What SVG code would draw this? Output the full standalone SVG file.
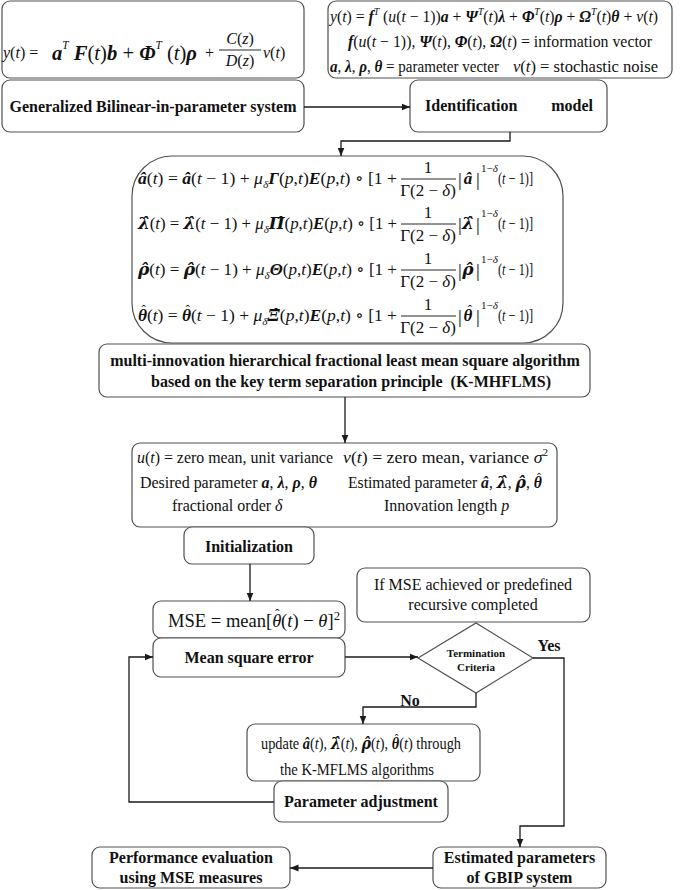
<svg xmlns="http://www.w3.org/2000/svg" width="685" height="890" viewBox="0 0 685 890">
<defs>
<style>
text{font-family:'Liberation Serif','Times New Roman','DejaVu Serif',serif;fill:#111;}
.box{fill:#fff;stroke:#505050;stroke-width:1.2;}
.lbl{font-size:16px;font-weight:bold;text-anchor:middle;}
.m{font-size:16px;}
.eq{font-size:17px;}
.i{font-style:italic;}
.bi{font-style:italic;font-weight:bold;}
.h{font-family:'DejaVu Serif',serif;}
.hat{font-style:normal;font-weight:normal;}
.c{text-anchor:middle;}
.conn{fill:none;stroke:#1a1a1a;stroke-width:1.3;}
.bar{stroke:#111;stroke-width:0.9;}
</style>
<marker id="arr" markerUnits="userSpaceOnUse" markerWidth="9" markerHeight="8" refX="8.5" refY="4" orient="auto">
<path d="M0,0.5 L8.5,4 L0,7.5 z" fill="#1a1a1a"/>
</marker>
</defs>

<g id="n-gbip-eq">
<rect class="box" x="2" y="1" width="302" height="77" rx="8"/>
<text class="m" x="3" y="58"><tspan class="i">y</tspan>(<tspan class="i">t</tspan>) =</text>
<text x="52" y="60" font-size="22" textLength="145" lengthAdjust="spacingAndGlyphs"><tspan class="bi">a</tspan><tspan class="i" font-size="12" dy="-11">T</tspan><tspan class="bi" dy="11"> F</tspan>(<tspan class="i">t</tspan>)<tspan class="bi">b</tspan> + <tspan class="bi">Φ</tspan><tspan class="i" font-size="12" dy="-11">T</tspan><tspan dy="11"> (</tspan><tspan class="i">t</tspan>)<tspan class="bi">ρ</tspan></text>
<text class="m" x="205" y="58">+</text>
<text class="m c" x="240" y="44"><tspan class="i">C</tspan>(<tspan class="i">z</tspan>)</text>
<line class="bar" x1="219" y1="50" x2="261" y2="50"/>
<text class="m c" x="240" y="66"><tspan class="i">D</tspan>(<tspan class="i">z</tspan>)</text>
<text class="m" x="263" y="58"><tspan class="i">v</tspan>(<tspan class="i">t</tspan>)</text>
</g>

<g id="n-gbip">
<rect class="box" x="2" y="80" width="302" height="52" rx="8"/>
<text class="lbl" x="153" y="112">Generalized Bilinear-in-parameter system</text>
</g>

<g id="n-idmodel-eq">
<rect class="box" x="328" y="1" width="344" height="77" rx="8"/>
<text class="m" x="330" y="22" textLength="328" lengthAdjust="spacingAndGlyphs"><tspan class="i">y</tspan>(<tspan class="i">t</tspan>) = <tspan class="bi">f</tspan><tspan class="i" font-size="10" dy="-7">T</tspan><tspan dy="7"> (</tspan><tspan class="i">u</tspan>(<tspan class="i">t</tspan> − 1))<tspan class="bi">a</tspan> + <tspan class="bi">Ψ</tspan><tspan class="i" font-size="10" dy="-7">T</tspan><tspan dy="7">(</tspan><tspan class="i">t</tspan>)<tspan class="bi">λ</tspan> + <tspan class="bi">Φ</tspan><tspan class="i" font-size="10" dy="-7">T</tspan><tspan dy="7">(</tspan><tspan class="i">t</tspan>)<tspan class="bi">ρ</tspan> + <tspan class="bi">Ω</tspan><tspan class="i" font-size="10" dy="-7">T</tspan><tspan dy="7">(</tspan><tspan class="i">t</tspan>)<tspan class="bi">θ</tspan> + <tspan class="i">v</tspan>(<tspan class="i">t</tspan>)</text>
<text class="m" x="348" y="47" textLength="304" lengthAdjust="spacingAndGlyphs"><tspan class="bi">f</tspan>(<tspan class="i">u</tspan>(<tspan class="i">t</tspan> − 1)), <tspan class="bi">Ψ</tspan>(<tspan class="i">t</tspan>), <tspan class="bi">Φ</tspan>(<tspan class="i">t</tspan>), <tspan class="bi">Ω</tspan>(<tspan class="i">t</tspan>) = information vector</text>
<text class="m" x="330" y="72" textLength="169" lengthAdjust="spacingAndGlyphs"><tspan class="bi">a</tspan>, <tspan class="bi">λ</tspan>, <tspan class="bi">ρ</tspan>, <tspan class="bi">θ</tspan> = parameter vecter</text>
<text class="m" x="513" y="72" textLength="145" lengthAdjust="spacingAndGlyphs"><tspan class="i">v</tspan>(<tspan class="i">t</tspan>) = stochastic noise</text>
</g>

<g id="n-idmodel">
<rect class="box" x="410" y="80" width="197" height="52" rx="8"/>
<text class="lbl" x="425" y="111" style="text-anchor:start" font-size="17">Identification</text>
<text class="lbl" x="593" y="111" style="text-anchor:end" font-size="17">model</text>
</g>

<g id="n-update-eqs">
<rect class="box" x="132" y="156" width="431" height="187" rx="40" ry="40"/>
<!-- line 1 -->
<text class="eq" x="138" y="184" textLength="259" lengthAdjust="spacingAndGlyphs"><tspan class="bi">â</tspan>(<tspan class="i">t</tspan>) = <tspan class="bi">â</tspan>(<tspan class="i">t</tspan> − 1) + <tspan class="i">μ</tspan><tspan class="i" font-size="11" dy="4">δ</tspan><tspan class="bi" dy="-4">Γ</tspan>(<tspan class="i">p</tspan>,<tspan class="i">t</tspan>)<tspan class="bi">E</tspan>(<tspan class="i">p</tspan>,<tspan class="i">t</tspan>) ∘ [1 +</text>
<text class="eq c" x="428" y="173">1</text>
<line class="bar" x1="401" y1="179" x2="456" y2="179"/>
<text class="eq c" x="428" y="196">Γ(2 − <tspan class="i">δ</tspan>)</text>
<text x="458" y="186" font-size="19">|</text>
<text class="eq bi c" x="468" y="184">â</text>
<text x="476" y="186" font-size="19">|</text>
<text x="481" y="172" font-size="11">1−<tspan class="i">δ</tspan></text>
<text class="eq" x="498" y="184" textLength="35" lengthAdjust="spacingAndGlyphs">(<tspan class="i">t</tspan> − 1)]</text>
<!-- line 2 -->
<text class="eq" x="138" y="229" textLength="259" lengthAdjust="spacingAndGlyphs"><tspan class="bi h">λ̂</tspan>(<tspan class="i">t</tspan>) = <tspan class="bi h">λ̂</tspan>(<tspan class="i">t</tspan> − 1) + <tspan class="i">μ</tspan><tspan class="i" font-size="11" dy="4">δ</tspan><tspan class="bi h" dy="-4">Π̂</tspan>(<tspan class="i">p</tspan>,<tspan class="i">t</tspan>)<tspan class="bi">E</tspan>(<tspan class="i">p</tspan>,<tspan class="i">t</tspan>) ∘ [1 +</text>
<text class="eq c" x="428" y="218">1</text>
<line class="bar" x1="401" y1="224" x2="456" y2="224"/>
<text class="eq c" x="428" y="241">Γ(2 − <tspan class="i">δ</tspan>)</text>
<text x="458" y="231" font-size="19">|</text>
<text class="eq bi h c" x="468" y="229" font-size="16">λ̂</text>
<text x="476" y="231" font-size="19">|</text>
<text x="481" y="217" font-size="11">1−<tspan class="i">δ</tspan></text>
<text class="eq" x="498" y="229" textLength="35" lengthAdjust="spacingAndGlyphs">(<tspan class="i">t</tspan> − 1)]</text>
<!-- line 3 -->
<text class="eq" x="138" y="275" textLength="259" lengthAdjust="spacingAndGlyphs"><tspan class="bi h">ρ̂</tspan>(<tspan class="i">t</tspan>) = <tspan class="bi h">ρ̂</tspan>(<tspan class="i">t</tspan> − 1) + <tspan class="i">μ</tspan><tspan class="i" font-size="11" dy="4">δ</tspan><tspan class="bi" dy="-4">Θ</tspan>(<tspan class="i">p</tspan>,<tspan class="i">t</tspan>)<tspan class="bi">E</tspan>(<tspan class="i">p</tspan>,<tspan class="i">t</tspan>) ∘ [1 +</text>
<text class="eq c" x="428" y="264">1</text>
<line class="bar" x1="401" y1="270" x2="456" y2="270"/>
<text class="eq c" x="428" y="287">Γ(2 − <tspan class="i">δ</tspan>)</text>
<text x="458" y="277" font-size="19">|</text>
<text class="eq bi h c" x="468" y="275" font-size="16">ρ̂</text>
<text x="476" y="277" font-size="19">|</text>
<text x="481" y="263" font-size="11">1−<tspan class="i">δ</tspan></text>
<text class="eq" x="498" y="275" textLength="35" lengthAdjust="spacingAndGlyphs">(<tspan class="i">t</tspan> − 1)]</text>
<!-- line 4 -->
<text class="eq" x="138" y="321" textLength="259" lengthAdjust="spacingAndGlyphs"><tspan class="bi">θ</tspan><tspan class="hat" font-size="13" dx="-5.5" dy="-7">ˆ</tspan><tspan dx="1" dy="7">(</tspan><tspan class="i">t</tspan>) = <tspan class="bi">θ</tspan><tspan class="hat" font-size="13" dx="-5.5" dy="-7">ˆ</tspan><tspan dx="1" dy="7">(</tspan><tspan class="i">t</tspan> − 1) + <tspan class="i">μ</tspan><tspan class="i" font-size="11" dy="4">δ</tspan><tspan class="bi h" dy="-4">Ξ̂</tspan>(<tspan class="i">p</tspan>,<tspan class="i">t</tspan>)<tspan class="bi">E</tspan>(<tspan class="i">p</tspan>,<tspan class="i">t</tspan>) ∘ [1 +</text>
<text class="eq c" x="428" y="310">1</text>
<line class="bar" x1="401" y1="316" x2="456" y2="316"/>
<text class="eq c" x="428" y="333">Γ(2 − <tspan class="i">δ</tspan>)</text>
<text x="458" y="323" font-size="19">|</text>
<text class="eq bi c" x="468" y="321">θ</text>
<text class="c" x="470" y="314" font-size="13">ˆ</text>
<text x="476" y="323" font-size="19">|</text>
<text x="481" y="309" font-size="11">1−<tspan class="i">δ</tspan></text>
<text class="eq" x="498" y="321" textLength="35" lengthAdjust="spacingAndGlyphs">(<tspan class="i">t</tspan> − 1)]</text>
</g>

<g id="n-kmhflms">
<rect class="box" x="99" y="344" width="491" height="53" rx="8"/>
<text class="lbl" x="345" y="366">multi-innovation hierarchical fractional least mean square algorithm</text>
<text class="lbl" x="351" y="387" xml:space="preserve">based on the key term separation principle  (K-MHFLMS)</text>
</g>

<g id="n-params">
<rect class="box" x="132" y="443" width="425" height="84" rx="8"/>
<text class="m" x="137" y="463" textLength="196" lengthAdjust="spacingAndGlyphs"><tspan class="i">u</tspan>(<tspan class="i">t</tspan>) = zero mean, unit variance</text>
<text class="m" x="343" y="463" textLength="205" lengthAdjust="spacingAndGlyphs"><tspan class="i">v</tspan>(<tspan class="i">t</tspan>) = zero mean, variance <tspan class="i">σ</tspan><tspan font-size="10" dy="-7">2</tspan></text>
<text class="m" x="140" y="488" textLength="177" lengthAdjust="spacingAndGlyphs">Desired parameter <tspan class="bi">a</tspan>, <tspan class="bi">λ</tspan>, <tspan class="bi">ρ</tspan>, <tspan class="bi">θ</tspan></text>
<text class="m" x="348" y="488" textLength="194" lengthAdjust="spacingAndGlyphs">Estimated parameter <tspan class="bi">â</tspan>, <tspan class="bi h">λ̂</tspan>, <tspan class="bi h">ρ̂</tspan>, <tspan class="bi">θ</tspan><tspan class="hat" font-size="12" dx="-5" dy="-6.5">ˆ</tspan></text>
<text class="m" x="172" y="511">fractional order <tspan class="i">δ</tspan></text>
<text class="m" x="384" y="511">Innovation length <tspan class="i">p</tspan></text>
</g>

<g id="n-init">
<rect class="box" x="184" y="527" width="130" height="37" rx="8"/>
<text class="lbl" x="249" y="552">Initialization</text>
</g>

<g id="n-criteria-note">
<rect class="box" x="357" y="568" width="233" height="54" rx="8"/>
<text class="m c" x="473" y="590">If MSE achieved or predefined</text>
<text class="m c" x="473" y="610">recursive completed</text>
</g>

<g id="n-mse-eq">
<rect class="box" x="153" y="601" width="192" height="37" rx="8"/>
<text x="168" y="627" font-size="19" textLength="172" lengthAdjust="spacingAndGlyphs">MSE = mean[<tspan class="i">θ</tspan><tspan class="hat" font-size="14" dx="-6.5" dy="-8">ˆ</tspan><tspan dx="1.5" dy="8">(</tspan><tspan class="i">t</tspan>) − <tspan class="i">θ</tspan>]<tspan font-size="13" dy="-7">2</tspan></text>
</g>

<g id="n-mse">
<rect class="box" x="153" y="638" width="192" height="39" rx="8"/>
<text class="lbl" x="249" y="663">Mean square error</text>
</g>

<g id="n-termination">
<polygon class="box" points="418,658 476,623 533,658 476,693"/>
<text class="c" x="476" y="657" font-size="11" font-weight="bold">Termination</text>
<text class="c" x="476" y="671" font-size="11" font-weight="bold">Criteria</text>
</g>

<g id="n-update">
<rect class="box" x="247" y="724" width="233" height="57" rx="8"/>
<text class="m" x="261" y="749" textLength="200" lengthAdjust="spacingAndGlyphs">update <tspan class="bi">â</tspan>(<tspan class="i">t</tspan>), <tspan class="bi h">λ̂</tspan>(<tspan class="i">t</tspan>), <tspan class="bi h">ρ̂</tspan>(<tspan class="i">t</tspan>), <tspan class="bi">θ</tspan><tspan class="hat" font-size="12" dx="-5" dy="-6.5">ˆ</tspan><tspan dx="1" dy="6.5">(</tspan><tspan class="i">t</tspan>) through</text>
<text class="m" x="280" y="775" textLength="154" lengthAdjust="spacingAndGlyphs">the K-MFLMS algorithms</text>
</g>

<g id="n-param-adj">
<rect class="box" x="274" y="781" width="174" height="41" rx="8"/>
<text class="lbl" x="361" y="807">Parameter adjustment</text>
</g>

<g id="n-estimated">
<rect class="box" x="433" y="847" width="173" height="41" rx="8"/>
<text class="lbl" x="519.5" y="863">Estimated parameters</text>
<text class="lbl" x="519.5" y="883">of GBIP system</text>
</g>

<g id="n-performance">
<rect class="box" x="92" y="847" width="198" height="41" rx="8"/>
<text class="lbl" x="191" y="863">Performance evaluation</text>
<text class="lbl" x="191" y="883">using MSE measures</text>
</g>

<g id="connectors">
<path class="conn" d="M304,107 H410" marker-end="url(#arr)"/>
<path class="conn" d="M510,132 V141 H341 V156" marker-end="url(#arr)"/>
<path class="conn" d="M345,397 V443" marker-end="url(#arr)"/>
<path class="conn" d="M250,564 V601" marker-end="url(#arr)"/>
<path class="conn" d="M345,657 H418" marker-end="url(#arr)"/>
<path class="conn" d="M476,693 V707 H363 V724" marker-end="url(#arr)"/>
<path class="conn" d="M533,658 H564 V826 H520 V847" marker-end="url(#arr)"/>
<path class="conn" d="M274,802 H129 V657 H153" marker-end="url(#arr)"/>
<path class="conn" d="M433,868 H290" marker-end="url(#arr)"/>
<text class="lbl" x="549" y="651">Yes</text>
<text class="lbl" x="410" y="706">No</text>
</g>
</svg>
